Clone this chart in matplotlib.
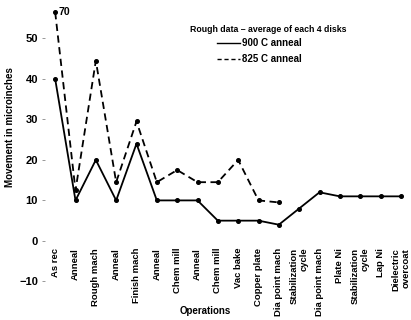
import numpy as np
import matplotlib
matplotlib.use("Agg")
import matplotlib.pyplot as plt

plt.rcParams['font.family'] = ['Liberation Sans', 'DejaVu Sans']
plt.rcParams['font.weight'] = 'bold'

operations = ["As rec", "Anneal", "Rough mach", "Anneal", "Finish mach", "Anneal",
              "Chem mill", "Anneal", "Chem mill", "Vac bake", "Copper plate",
              "Dia point mach", "Stabilization\ncycle", "Dia point mach", "Plate Ni",
              "Stabilization\ncycle", "Lap Ni", "Dielectric\novercoat"]
anneal_900 = [40, 10, 20, 10, 24, 10, 10, 10, 5, 5, 5, 4, 8, 12, 11, 11, 11, 11]
anneal_825 = [70, 12.5, 44.5, 14.5, 29.5, 14.5, 17.5, 14.5, 14.5, 20, 10, 9.5]
offscale_cap = 56.5
yticks = [-10, 0, 10, 20, 30, 40, 50]

fig = plt.figure(figsize=(4.11, 3.2), dpi=100)
ax = fig.add_axes([45/411, 20/320, 366/411, 300/320])

x900 = np.arange(len(anneal_900))
x825 = np.arange(len(anneal_825))
y825 = np.minimum(np.array(anneal_825, dtype=float), offscale_cap)

ax.plot(x900, anneal_900, color='black', lw=1.3, marker='o', ms=2.6)
ax.plot(x825, y825, color='black', lw=1.3, ls=(0, (4, 2.5)), marker='o', ms=2.6)
for xi, v, yv in zip(x825, anneal_825, y825):
    if v > offscale_cap:
        ax.text(xi + 0.15, yv, f"{v:g}", fontsize=7.5, fontweight='bold',
                va='center', ha='left')

ax.set_xlim(-0.5, 17.5)
ax.set_ylim(-14.6, 59.5)
ax.set_yticks(yticks)
ax.set_yticklabels([("\u2212" + str(-t)) if t < 0 else str(t) for t in yticks],
                   fontsize=8, fontweight='bold')
ax.tick_params(axis='y', length=2, width=0.6, pad=3, color='#888888')

ax.spines['bottom'].set_position(('data', 0))
for s in ax.spines.values():
    s.set_visible(False)
ax.set_xticks(x900)
ax.set_xticklabels(operations, rotation=90, fontsize=6.8, fontweight='bold',
                   va='top', ha='center', multialignment='right')
ax.tick_params(axis='x', length=0, pad=5)

# legend
lx0, lx1 = 217, 240
ax.text(190/411 * 411 / 366 - 45/366, 1 - 29/300, "Rough data \u2013 average of each 4 disks",
        transform=ax.transAxes, fontsize=6.3, fontweight='bold', va='center', ha='left')
for (ypix, ls, lab) in [(43, '-', "900 C anneal"), (59, (0, (3, 2)), "825 C anneal")]:
    ya = 1 - ypix/300
    ax.plot([(lx0-45)/366, (lx1-45)/366], [ya, ya], transform=ax.transAxes,
            color='black', lw=1.0, ls=ls)
    ax.text((lx1+2-45)/366, ya, lab, transform=ax.transAxes, fontsize=7,
            fontweight='bold', va='center', ha='left')

fig.text(10/411, 1 - 127/320, "Movement in microinches", rotation=90,
         fontsize=7, fontweight='bold', ha='center', va='center')
fig.text(205/411, 1 - 311/320, "Operations", fontsize=7, fontweight='bold',
         ha='center', va='center')

fig.savefig("out.png", dpi=100)
